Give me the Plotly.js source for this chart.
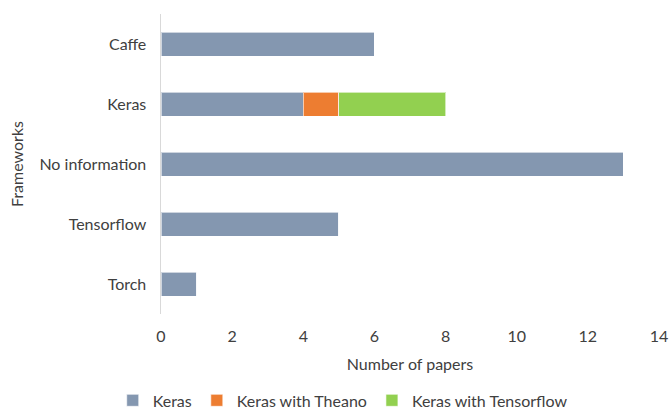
<!DOCTYPE html>
<html>
<head>
<meta charset="utf-8">
<script src="https://cdn.plot.ly/plotly-3.0.1.min.js"></script>
<style>
  html, body { margin: 0; padding: 0; background: #fff; }
  #chart { width: 672px; height: 411px; }
</style>
</head>
<body>
<div id="chart"></div>
<script>
// Frameworks used in the surveyed papers, split by Keras backend
const frameworks = ["Caffe", "Keras", "No information", "Tensorflow", "Torch"];
const kerasPlain = [6, 4, 13, 5, 1];
const kerasTheano = [0, 1, 0, 0, 0];
const kerasTensorflow = [0, 3, 0, 0, 0];
const seriesNames = ["Keras", "Keras with Theano", "Keras with Tensorflow"];
const seriesColors = ["#8497B0", "#ED7D31", "#92D050"];
const xTicks = [0, 2, 4, 6, 8, 10, 12, 14];

const font = "Lato, 'Open Sans', sans-serif";
const textColor = "#404040";
const fontSize = 16;

const traces = [kerasPlain, kerasTheano, kerasTensorflow].map((vals, i) => ({
  type: "bar",
  orientation: "h",
  name: seriesNames[i],
  y: frameworks,
  x: vals,
  marker: {
    color: seriesColors[i],
    line: { color: "rgba(255,255,255,0.6)", width: 1 }
  },
  hoverinfo: "x+y+name"
}));

const layout = {
  width: 672,
  height: 411,
  barmode: "stack",
  bargap: 0.6,
  paper_bgcolor: "#fff",
  plot_bgcolor: "#fff",
  margin: { l: 161, r: 13, t: 14, b: 97, autoexpand: false },
  font: { family: font, size: fontSize, color: textColor },
  xaxis: {
    range: [0, 14],
    tickvals: xTicks,
    ticktext: xTicks.map(String),
    showgrid: false,
    zeroline: false,
    showline: false,
    ticks: "outside",
    ticklen: 8,
    tickcolor: "rgba(0,0,0,0)",
    tickfont: { family: font, size: fontSize, color: textColor },
    title: { text: "Number of papers", font: { family: font, size: fontSize, color: textColor }, standoff: 14 }
  },
  yaxis: {
    categoryorder: "array",
    categoryarray: frameworks.slice().reverse(),
    showgrid: false,
    zeroline: false,
    showline: true,
    linecolor: "#D9D9D9",
    linewidth: 1.5,
    ticks: "outside",
    ticklen: 10,
    tickcolor: "rgba(0,0,0,0)",
    tickfont: { family: font, size: fontSize, color: textColor },
    title: { text: "Frameworks", font: { family: font, size: fontSize, color: textColor }, standoff: 12 }
  },
  showlegend: true,
  legend: {
    orientation: "h",
    xref: "container",
    yref: "paper",
    x: 0.51,
    xanchor: "center",
    y: -0.288,
    yanchor: "middle",
    font: { family: font, size: fontSize, color: textColor },
    itemwidth: 30,
    traceorder: "normal"
  }
};

Plotly.newPlot("chart", traces, layout, { displayModeBar: false, staticPlot: true });
</script>
</body>
</html>
